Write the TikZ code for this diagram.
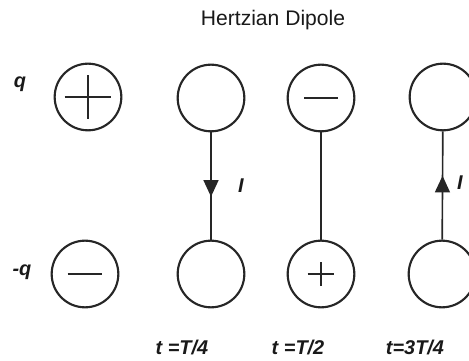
\documentclass[tikz,border=0pt]{standalone}
\usepackage{fontspec}
\setmainfont{Liberation Sans}
\usetikzlibrary{arrows.meta,decorations.markings}

\tikzset{
  charge/.style={draw=black!85, line width=1.8pt, circle, minimum size=2cm, inner sep=0pt},
  sign/.style={draw=black!85, line width=1.8pt},
  wire/.style={draw=black!85, line width=1.4pt},
  lbl/.style={font=\fontsize{17}{20}\selectfont\bfseries\itshape, text=black!90},
  current/.style={postaction={decorate}, decoration={markings,
    mark=at position #1 with {\arrow[black!85]{Triangle[length=0.5cm,width=0.45cm]}}}}
}

\begin{document}
\begin{tikzpicture}
			\clip (0,0) rectangle (14.07,10.8);
			\useasboundingbox (0,0) rectangle (14.07,10.8);
			% title
			\node[font=\fontsize{18}{21}\selectfont, text=black!90] (title) at (8.19,10.2) {Hertzian Dipole};
			% charges: top row q, bottom row -q
			\node[charge] (top1) at (2.64,7.89) {};
			\node[charge] (bottom1) at (2.55,2.58) {};
			\node[charge] (top2) at (6.33,7.86) {};
			\node[charge] (bottom2) at (6.33,2.58) {};
			\node[charge] (top3) at (9.63,7.86) {};
			\node[charge] (bottom3) at (9.63,2.58) {};
			\node[charge] (top4) at (13.29,7.89) {};
			\node[charge] (bottom4) at (13.26,2.58) {};
			% signs
			\draw[sign] ([xshift=-0.7cm]top1.center) -- ([xshift=0.7cm]top1.center);
			\draw[sign] ([yshift=-0.66cm]top1.center) -- ([yshift=0.66cm]top1.center);
			\draw[sign] ([xshift=-0.52cm]bottom1.center) -- ([xshift=0.52cm]bottom1.center);
			\draw[sign] ([xshift=-0.5cm]top3.center) -- ([xshift=0.5cm]top3.center);
			\draw[sign] ([xshift=-0.4cm]bottom3.center) -- ([xshift=0.4cm]bottom3.center);
			\draw[sign] ([yshift=-0.36cm]bottom3.center) -- ([yshift=0.36cm]bottom3.center);
			% wires with current
			\draw[wire, current=0.6] (top2) -- (bottom2);
			\draw[wire] (top3) -- (bottom3);
			\draw[wire, current=0.59] (bottom4) -- (top4);
			% labels
			\node[lbl] (q) at (0.6,8.28) {q};
			\node[lbl] (mq) at (0.66,2.64) {-q};
			\node[lbl] (I2) at (7.23,5.22) {I};
			\node[lbl] (I4) at (13.8,5.31) {I};
			\node[lbl] (t1) at (5.46,0.39) {t =T/4};
			\node[lbl] (t2) at (8.94,0.39) {t =T/2};
			\node[lbl] (t3) at (12.45,0.39) {t=3T/4};
\end{tikzpicture}
\end{document}
